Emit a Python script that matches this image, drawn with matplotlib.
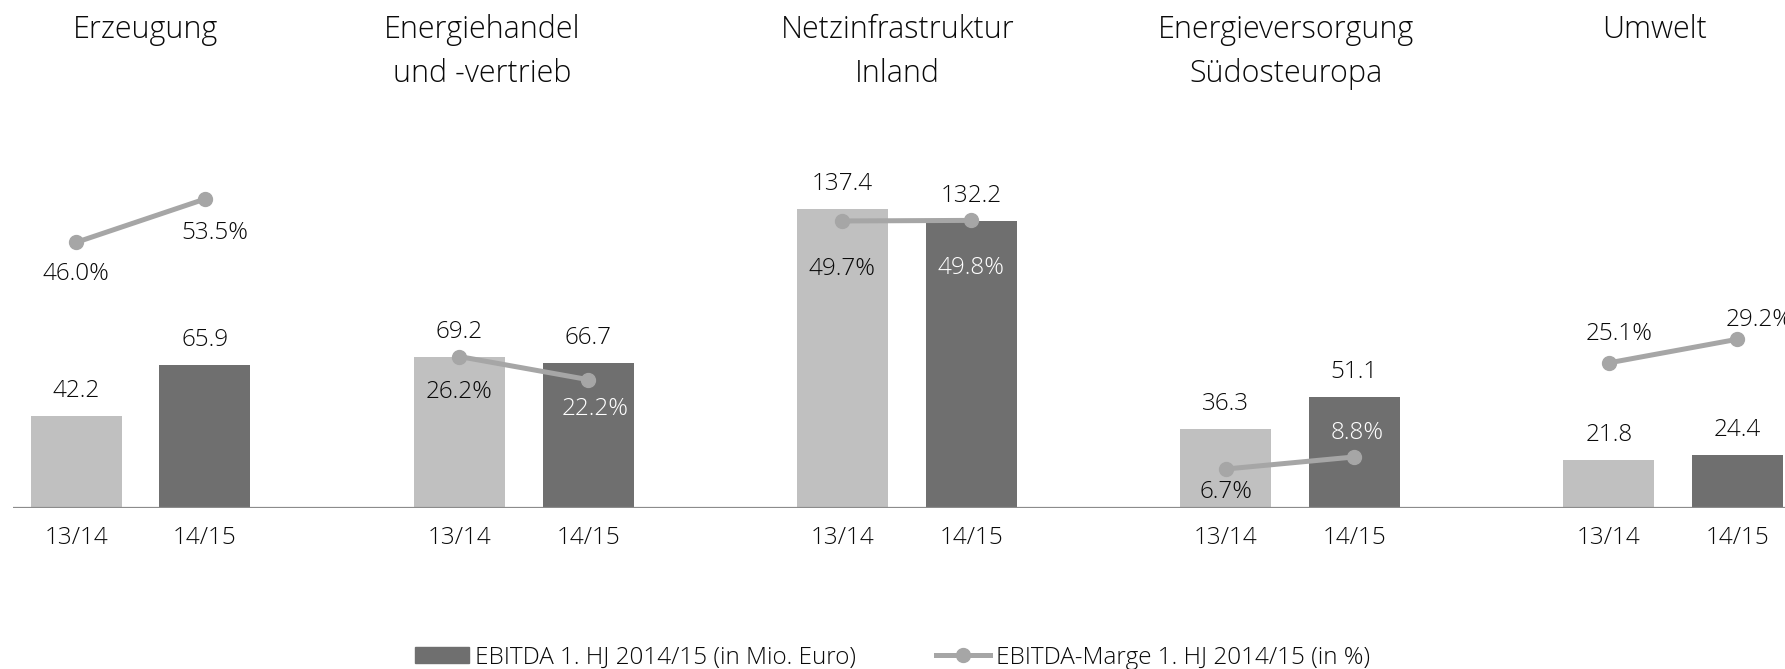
import numpy as np
import matplotlib
matplotlib.use("Agg")
import matplotlib.pyplot as plt
from matplotlib.patches import Patch
from matplotlib.lines import Line2D

plt.rcParams['font.family'] = ['Open Sans', 'DejaVu Sans']
plt.rcParams['font.weight'] = 'light'

# data
segments = ["Erzeugung", "Energiehandel\nund -vertrieb", "Netzinfrastruktur\nInland",
            "Energieversorgung\nSüdosteuropa", "Umwelt"]
years = ["13/14", "14/15"]
ebitda_1314 = [42.2, 69.2, 137.4, 36.3, 21.8]
ebitda_1415 = [65.9, 66.7, 132.2, 51.1, 24.4]
marge_1314 = [46.0, 26.2, 49.7, 6.7, 25.1]
marge_1415 = [53.5, 22.2, 49.8, 8.8, 29.2]

# colours
c_light = "#c0c0c0"
c_dark = "#6f6f6f"
c_line = "#a6a6a6"
c_text = "#0a0a0a"

# label offsets for the percent values (dx, dy in pixels, dy positive = down)
pct_off_1314 = [(0, 29), (0, 32), (0, 45), (0, 20), (10, -32)]
pct_off_1415 = [(10, 31), (7, 26), (0, 45), (3, -27), (22, -22)]
pct_white_1415 = [False, True, True, True, False]

fig = plt.figure(figsize=(17.85, 6.69), dpi=100)
ax = fig.add_axes([13 / 1785, 0.2411, 1 - 13 / 1785, 1 - 0.2411])
ax2 = ax.twinx()

x = np.arange(len(segments))
off = 0.168
w = 0.2375
ax.bar(x - off, ebitda_1314, w, color=c_light, zorder=2)
ax.bar(x + off, ebitda_1415, w, color=c_dark, zorder=2)
ax.axhline(0, color="#8c8c8c", lw=1.6, zorder=3)

ax.set_xlim(-0.333, 4.292)
ax.set_ylim(0, 233.7)
ax2.set_ylim(0, 88.0)

for a in (ax, ax2):
    for s in a.spines.values():
        s.set_visible(False)
    a.set_yticks([])

ticks = np.concatenate([x - off, x + off])
ax.set_xticks(ticks)
ax.set_xticklabels([years[0]] * len(x) + [years[1]] * len(x))
ax.tick_params(axis="x", length=0, pad=13, labelsize=17.5, labelcolor=c_text)

px = 0.72  # points per pixel at 100 dpi
for i in range(len(x)):
    for xx, v in ((x[i] - off, ebitda_1314[i]), (x[i] + off, ebitda_1415[i])):
        ax.annotate(f"{v:.1f}", (xx, v), xytext=(0, 19 * px), textcoords="offset points",
                    ha="center", va="baseline", fontsize=17.5, color=c_text, zorder=5)

    ax2.plot([x[i] - off, x[i] + off], [marge_1314[i], marge_1415[i]], color=c_line,
             lw=3.6, marker="o", markersize=10, solid_capstyle="round", zorder=4)

    for xx, v, (dx, dy), col in (
            (x[i] - off, marge_1314[i], pct_off_1314[i], c_text),
            (x[i] + off, marge_1415[i], pct_off_1415[i], "white" if pct_white_1415[i] else c_text)):
        ax2.annotate(f"{v:.1f}%", (xx, v), xytext=(dx * px, -(dy + 9) * px),
                     textcoords="offset points", ha="center", va="baseline",
                     fontsize=17.5, color=col, zorder=6, annotation_clip=False)

title_x = [145.5, 482, 897.5, 1285.5, 1654.5]
for t, tx in zip(segments, title_x):
    fig.text(tx / 1785, 1 - 13.5 / 669, t, ha="center", va="top", fontsize=22,
             color=c_text, linespacing=1.5)

handles = [Patch(color=c_dark),
           Line2D([0], [0], color=c_line, lw=3.6, marker="o", markersize=10)]
fig.legend(handles, ["EBITDA 1. HJ 2014/15 (in Mio. Euro)", "EBITDA-Marge 1. HJ 2014/15 (in %)"],
           loc="center", bbox_to_anchor=(0.5, 0.017), ncol=2, frameon=False, fontsize=17.5,
           handlelength=2.2, handleheight=0.6, handletextpad=0.25, columnspacing=3.3,
           labelcolor=c_text)

fig.savefig("out.png", dpi=100)
